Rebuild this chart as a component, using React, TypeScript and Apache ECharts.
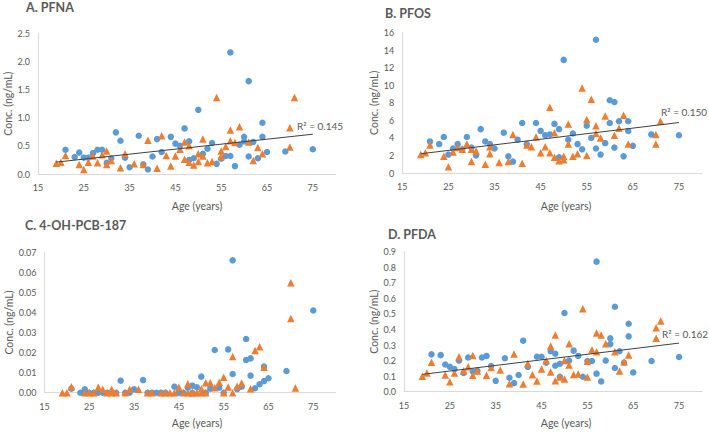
import React, { useEffect, useRef } from "react";
import * as echarts from "echarts";

// ---------- DATA ----------
const ageTicks = [15, 25, 35, 45, 55, 65, 75];

// Panel A. PFNA
const pfnaBlue: number[][] = [
  [21, 0.43], [23, 0.3], [24, 0.38], [25, 0.29], [26, 0.29], [27, 0.37], [28, 0.43], [29, 0.43],
  [30, 0.2], [31, 0.28], [32, 0.74], [33, 0.59], [34, 0.29], [35, 0.12], [37, 0.68], [38, 0.17],
  [39, 0.08], [40, 0.31], [41, 0.62], [42, 0.39], [44, 0.66], [45, 0.54], [46, 0.5], [47, 0.81],
  [48, 0.58], [48, 0.25], [49, 0.28], [50, 1.14], [51, 0.36], [52, 0.45], [53, 0.55], [54, 0.18],
  [55, 0.27], [56, 0.32], [57, 2.16], [57, 0.32], [58, 0.14], [59, 0.52], [60, 0.66], [60, 0.58],
  [61, 1.65], [61, 0.31], [62, 0.57], [63, 0.28], [64, 0.91], [64, 0.66], [65, 0.39], [69, 0.4],
  [75, 0.44],
];
const pfnaOrange: number[][] = [
  [19, 0.19], [20, 0.21], [21, 0.33], [24, 0.17], [25, 0.08], [26, 0.21], [27, 0.32], [28, 0.2],
  [29, 0.34], [30, 0.41], [30, 0.17], [31, 0.24], [33, 0.11], [34, 0.36], [36, 0.18], [38, 0.17],
  [39, 0.6], [41, 0.1], [42, 0.68], [43, 0.33], [44, 0.14], [45, 0.32], [46, 0.44], [47, 0.57],
  [47, 0.26], [48, 0.5], [48, 0.21], [49, 0.16], [50, 0.36], [50, 0.22], [51, 0.62], [51, 0.32],
  [52, 0.2], [53, 0.22], [54, 1.36], [55, 0.41], [55, 0.31], [56, 0.49], [57, 0.78], [57, 0.59],
  [58, 0.56], [59, 0.84], [61, 0.57], [62, 0.24], [63, 0.47], [64, 0.36], [70, 0.82], [70, 0.48],
  [71, 1.36],
];

// Panel B. PFOS
const pfosBlue: number[][] = [
  [21, 3.6], [23, 3.3], [24, 4.1], [25, 2.1], [26, 2.8], [27, 3.3], [28, 2.7], [29, 4.1],
  [30, 2.9], [31, 2.0], [32, 5.0], [33, 3.6], [34, 3.3], [35, 2.8], [37, 4.6], [38, 1.9],
  [39, 1.3], [40, 3.8], [41, 5.7], [42, 3.3], [44, 5.7], [45, 4.8], [46, 4.3], [47, 4.4],
  [48, 5.6], [49, 5.0], [49, 1.8], [50, 12.9], [51, 3.8], [52, 4.5], [53, 3.3], [54, 2.7],
  [55, 5.4], [56, 4.0], [57, 15.2], [57, 2.8], [58, 2.1], [59, 3.4], [60, 8.3], [60, 5.7],
  [61, 8.1], [61, 2.9], [62, 5.9], [63, 1.9], [64, 5.9], [64, 4.8], [65, 3.1], [69, 4.4],
  [75, 4.3],
];
const pfosOrange: number[][] = [
  [19, 2.1], [20, 2.3], [21, 3.2], [24, 1.9], [25, 0.7], [26, 2.4], [27, 2.9], [28, 2.7],
  [29, 3.3], [30, 2.7], [30, 1.3], [31, 2.5], [33, 1.0], [34, 2.2], [34, 3.0], [36, 1.2],
  [38, 1.3], [39, 4.4], [41, 1.1], [42, 3.2], [43, 3.0], [44, 4.1], [45, 2.3], [46, 3.0],
  [47, 7.5], [47, 2.3], [48, 4.6], [48, 1.8], [49, 1.4], [50, 1.9], [50, 1.5], [51, 5.6],
  [51, 3.3], [52, 1.9], [53, 2.2], [54, 9.7], [55, 6.1], [55, 2.0], [56, 8.4], [57, 5.4],
  [57, 4.5], [58, 4.0], [59, 6.5], [61, 4.3], [62, 5.1], [63, 6.6], [64, 3.3], [70, 4.4],
  [70, 3.3], [71, 5.9],
];

// Panel C. 4-OH-PCB-187
const pcbBlue: number[][] = [
  [21, 0.002], [23, 0], [24, 0.0017], [25, 0], [26, 0], [27, 0], [28, 0], [29, 0],
  [30, 0], [31, 0], [32, 0.006], [33, 0], [34, 0], [35, 0.0017], [37, 0.0063], [38, 0],
  [39, 0], [40, 0], [41, 0], [42, 0], [44, 0.003], [45, 0], [46, 0], [47, 0.0025],
  [48, 0.0035], [48, 0], [49, 0.0027], [50, 0.008], [51, 0], [52, 0.002], [53, 0.0213], [54, 0.0025],
  [55, 0], [56, 0.0216], [57, 0.066], [57, 0.0093], [58, 0.0017], [59, 0.003], [60, 0.0268], [60, 0.0163],
  [61, 0.0171], [61, 0.0085], [62, 0.0022], [63, 0.0042], [64, 0.0058], [64, 0.013], [65, 0.0072], [69, 0.0108],
  [75, 0.041],
];
const pcbOrange: number[][] = [
  [19, 0], [20, 0], [21, 0.003], [24, 0], [25, 0], [26, 0], [27, 0.0027], [28, 0.0017],
  [29, 0], [30, 0.0017], [30, 0], [31, 0], [33, 0], [34, 0.0017], [36, 0.0017], [38, 0],
  [39, 0], [41, 0], [42, 0], [43, 0], [44, 0], [45, 0.0027], [46, 0], [47, 0.0045],
  [47, 0], [48, 0], [48, 0], [49, 0], [50, 0.002], [50, 0], [51, 0.005], [51, 0],
  [52, 0.005], [53, 0.0025], [54, 0.0052], [55, 0.0077], [55, 0], [56, 0.0028], [57, 0.018], [57, 0],
  [58, 0.0032], [59, 0.0048], [61, 0.002], [62, 0.0211], [63, 0.0229], [64, 0.0127], [70, 0.0548], [70, 0.037],
  [71, 0.0023],
];

// Panel D. PFDA
const pfdaBlue: number[][] = [
  [21, 0.24], [23, 0.235], [24, 0.175], [25, 0.16], [26, 0.145], [27, 0.2], [28, 0.12], [29, 0.22],
  [30, 0.13], [31, 0.135], [32, 0.22], [33, 0.23], [34, 0.165], [35, 0.07], [37, 0.215], [38, 0.09],
  [39, 0.055], [40, 0.107], [41, 0.328], [42, 0.16], [44, 0.225], [45, 0.225], [46, 0.186], [47, 0.26],
  [48, 0.244], [48, 0.167], [49, 0.18], [49, 0.096], [50, 0.506], [51, 0.2], [52, 0.264], [53, 0.23],
  [54, 0.096], [55, 0.197], [56, 0.197], [57, 0.836], [57, 0.116], [58, 0.066], [59, 0.2], [60, 0.343],
  [60, 0.306], [61, 0.546], [61, 0.152], [62, 0.26], [63, 0.186], [64, 0.437], [64, 0.356], [65, 0.124],
  [69, 0.197], [75, 0.223],
];
const pfdaOrange: number[][] = [
  [19, 0.1], [20, 0.12], [21, 0.19], [24, 0.107], [25, 0.064], [26, 0.12], [27, 0.225], [28, 0.135],
  [29, 0.16], [30, 0.233], [30, 0.105], [31, 0.133], [33, 0.105], [34, 0.156], [36, 0.14], [38, 0.051],
  [39, 0.242], [41, 0.049], [42, 0.182], [43, 0.109], [44, 0.069], [45, 0.146], [46, 0.2], [47, 0.294],
  [47, 0.126], [48, 0.364], [48, 0.071], [49, 0.094], [50, 0.2], [50, 0.081], [51, 0.309], [51, 0.171],
  [52, 0.111], [53, 0.114], [54, 0.534], [55, 0.195], [55, 0.094], [56, 0.27], [57, 0.377], [57, 0.257],
  [58, 0.364], [59, 0.309], [61, 0.257], [62, 0.133], [63, 0.193], [64, 0.236], [70, 0.411], [70, 0.343],
  [71, 0.454],
];

const panelTitles = ["A. PFNA", "B. PFOS", "C. 4-OH-PCB-187", "D. PFDA"];
const r2Labels = ["R\u00b2 = 0.145", "R\u00b2 = 0.150", "", "R\u00b2 = 0.162"];
const yMax = [2.5, 16, 0.07, 0.9];
const yInterval = [0.5, 2, 0.01, 0.1];
const yDecimals = [1, 0, 2, 1];
const xAxisTitle = "Age (years)";
const yAxisTitle = "Conc. (ng/mL)";

// ---------- LAYOUT ----------
const FONT = "Lato, 'Open Sans', sans-serif";
const GREY = "#595959";
const BLUE = "#5B9BD5";
const ORANGE = "#ED7D31";

const grids = [
  { left: 38, top: 33.3, width: 297.7, height: 140.7 },
  { left: 402.3, top: 32.7, width: 299.7, height: 140.3 },
  { left: 44.5, top: 252.3, width: 291.2, height: 140.4 },
  { left: 404, top: 251.7, width: 298, height: 140 },
];
const yNameGap = [24, 20, 30, 22];
const titlePos = [[26, 7], [385, 13], [25, 225], [388, 234]];
const r2Pos = [[297, 126], [661, 112], [0, 0], [662, 334]];
const xTitlePos = [[197, 206], [566, 206], [197, 423], [566, 423]];

function regression(points: number[][]) {
  const n = points.length;
  let sx = 0, sy = 0, sxx = 0, sxy = 0;
  let minX = Infinity, maxX = -Infinity;
  for (const [x, y] of points) {
    sx += x; sy += y; sxx += x * x; sxy += x * y;
    if (x < minX) minX = x;
    if (x > maxX) maxX = x;
  }
  const b = (n * sxy - sx * sy) / (n * sxx - sx * sx);
  const a = (sy - b * sx) / n;
  return [[minX, a + b * minX], [maxX, a + b * maxX]];
}

export default function App() {
  const ref = useRef<HTMLDivElement>(null);
  useEffect(() => {
    if (!ref.current) return;
    const chart = echarts.init(ref.current, undefined, { renderer: "svg" });
    const blues = [pfnaBlue, pfosBlue, pcbBlue, pfdaBlue];
    const oranges = [pfnaOrange, pfosOrange, pcbOrange, pfdaOrange];
    const series: any[] = [];
    for (let i = 0; i < 4; i++) {
      series.push({
        type: "scatter", xAxisIndex: i, yAxisIndex: i, data: blues[i],
        symbol: "circle", symbolSize: 6.5, itemStyle: { color: BLUE, opacity: 1 },
      });
      series.push({
        type: "scatter", xAxisIndex: i, yAxisIndex: i, data: oranges[i],
        symbol: "triangle", symbolSize: 7.5, itemStyle: { color: ORANGE, opacity: 1 },
      });
      if (r2Labels[i]) {
        series.push({
          type: "line", xAxisIndex: i, yAxisIndex: i,
          data: regression([...blues[i], ...oranges[i]]),
          symbol: "none", lineStyle: { color: "#404040", width: 1 }, z: 5,
        });
      }
    }
    const graphic: any[] = [];
    for (let i = 0; i < 4; i++) {
      graphic.push({
        type: "text", x: titlePos[i][0], y: titlePos[i][1],
        style: { text: panelTitles[i], font: `bold 12.5px ${FONT}`, fill: GREY, textVerticalAlign: "middle" },
      });
      graphic.push({
        type: "text", x: xTitlePos[i][0], y: xTitlePos[i][1],
        style: { text: xAxisTitle, font: `10.5px ${FONT}`, fill: GREY, textAlign: "center", textVerticalAlign: "middle" },
      });
      if (r2Labels[i]) {
        graphic.push({
          type: "text", x: r2Pos[i][0], y: r2Pos[i][1],
          style: { text: r2Labels[i], font: `10px ${FONT}`, fill: GREY, textVerticalAlign: "middle" },
        });
      }
    }
    chart.setOption({
      animation: false,
      backgroundColor: "#ffffff",
      grid: grids.map((g) => ({ ...g, containLabel: false })),
      xAxis: grids.map((_, i) => ({
        type: "value", gridIndex: i, min: ageTicks[0], max: 80, interval: 10,
        axisLine: { show: true, lineStyle: { color: "#d9d9d9", width: 1 } },
        axisTick: { show: false }, splitLine: { show: false },
        axisLabel: { color: GREY, fontSize: 9, fontFamily: FONT, margin: 9, showMaxLabel: false },
      })),
      yAxis: grids.map((_, i) => ({
        type: "value", gridIndex: i, min: 0, max: yMax[i], interval: yInterval[i],
        name: yAxisTitle, nameLocation: "middle", nameGap: yNameGap[i],
        nameTextStyle: { color: GREY, fontSize: 10.5, fontFamily: FONT },
        axisLine: { show: true, lineStyle: { color: "#d9d9d9", width: 1 } },
        axisTick: { show: false }, splitLine: { show: false },
        axisLabel: {
          color: GREY, fontSize: 9, fontFamily: FONT, margin: 8,
          formatter: (v: number) => v.toFixed(yDecimals[i]),
        },
      })),
      series,
      graphic,
    });
    return () => chart.dispose();
  }, []);
  return (
    <div
      ref={ref}
      style={{ position: "fixed", left: 0, top: 0, width: 709, height: 432, background: "#fff" }}
    />
  );
}
